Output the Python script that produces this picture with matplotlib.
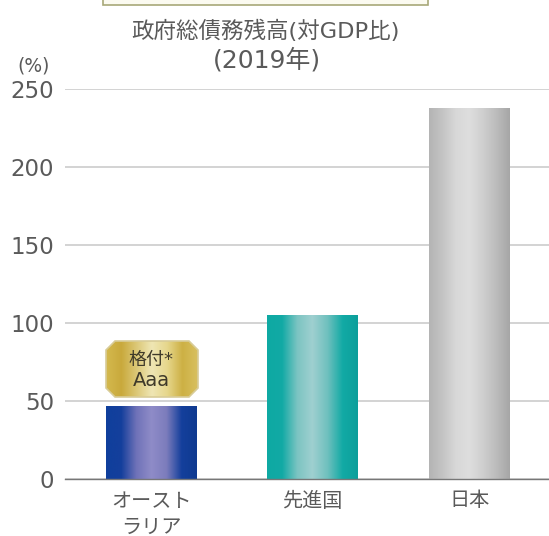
import numpy as np
import matplotlib
matplotlib.use('Agg')
import matplotlib.pyplot as plt
from matplotlib.colors import LinearSegmentedColormap
from matplotlib.patches import Polygon, Rectangle

plt.rcParams['font.family'] = ['DejaVu Sans', 'Noto Sans CJK JP']

# data
categories = ['オースト\nラリア', '先進国', '日本']
values = [46.5, 105, 238]
yticks = [0, 50, 100, 150, 200, 250]

# layout of the bars
x_pos = [0, 1, 1.977]
widths = [0.565, 0.565, 0.503]

# gradient colours per bar
bar_colors = [
    ['#0f3f9c', '#143f9c', '#6f72b8', '#8f8cc8', '#7c7cbc', '#143f9c', '#0f3a90'],
    ['#0ea9a3', '#12aaa5', '#7cc4c2', '#9fd0d0', '#6fc0be', '#12aaa5', '#0c9f9b'],
    ['#b4b4b4', '#c4c4c4', '#d8d8d8', '#dedede', '#cfcfcf', '#bcbcbc', '#a6a6a6'],
]
text_color = '#5a5a5a'

W, H = 549, 536
fig = plt.figure(figsize=(W / 100, H / 100), dpi=100)
ax = fig.add_axes([65 / W, (H - 479) / H, (W - 65) / W, 390 / H])

for s in ax.spines.values():
    s.set_visible(False)
ax.spines['bottom'].set_visible(True)
ax.spines['bottom'].set_color('#777777')
ax.spines['bottom'].set_linewidth(1.0)

ax.set_yticks(yticks)
ax.set_yticklabels([str(t) for t in yticks], fontsize=16.5, color=text_color)
ax.tick_params(axis='y', length=0, pad=8)
ax.tick_params(axis='x', length=0, pad=9)
ax.grid(axis='y', color='#c8c8c8', linewidth=1.1)
ax.set_axisbelow(True)

ax.set_xticks(x_pos)
ax.set_xticklabels(categories, fontsize=14.5, color=text_color, linespacing=1.5, va='top')

bars = ax.bar(x_pos, values, widths, color='none', zorder=2)
for bar, cols in zip(bars, bar_colors):
    cmap = LinearSegmentedColormap.from_list('bar', cols)
    x0 = bar.get_x()
    im = ax.imshow(np.linspace(0, 1, 256).reshape(1, -1), cmap=cmap, aspect='auto', zorder=2,
                   extent=[x0, x0 + bar.get_width(), 0, bar.get_height()])
    im.set_clip_path(bar)
ax.set_xlim(-0.537, 2.469)
ax.set_ylim(0, 250)

# overlay in pixel coordinates
bax = fig.add_axes([0, 0, 1, 1], facecolor='none')
bax.set_axis_off()

# badge above the first bar
gold = LinearSegmentedColormap.from_list('gold', ['#d4b94e', '#c9a93c', '#dcc877', '#efe6b4', '#e6d78c', '#cdb044', '#d8c060'])
im = bax.imshow(np.linspace(0, 1, 256).reshape(1, -1), cmap=gold, aspect='auto',
                extent=[106, 198, 397, 341])
patch = Polygon([(115, 341), (189, 341), (198, 350), (198, 388), (189, 397),
                 (115, 397), (106, 388), (106, 350)],
                facecolor='none', edgecolor='#d8cc98', linewidth=1.2)
bax.add_patch(patch)
im.set_clip_path(patch)
bax.text(151, 360, '格付*', ha='center', va='center', fontsize=13, color='#3f3a2a')
bax.text(151, 381, 'Aaa', ha='center', va='center', fontsize=14, color='#3f3a2a')

# title and unit
bax.text(266, 31, '政府総債務残高(対GDP比)', ha='center', va='center', fontsize=16.2, color=text_color)
bax.text(267, 60, '(2019年)', ha='center', va='center', fontsize=18, color=text_color)
bax.text(34, 66, '(%)', ha='center', va='center', fontsize=13.5, color=text_color)

# frame cut off at the top
bax.add_patch(Rectangle((103, -4), 325, 9, facecolor='#fbfaf0', edgecolor='#a8a878', linewidth=1.2))

bax.set_xlim(0, W)
bax.set_ylim(H, 0)

fig.savefig('out.png', dpi=100)
